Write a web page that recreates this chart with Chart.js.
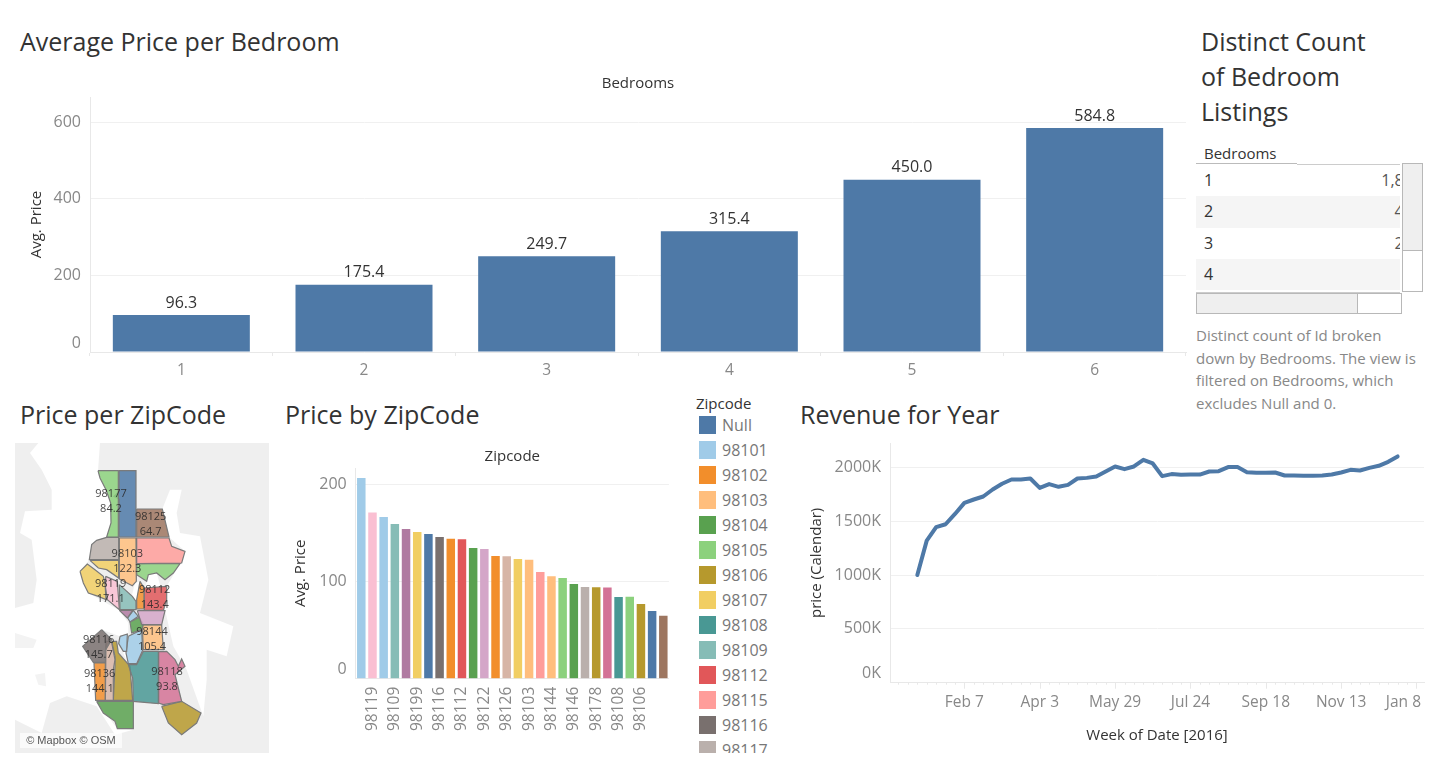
<!DOCTYPE html>
<html>
<head>
<meta charset="utf-8">
<title>Seattle listings dashboard</title>
<script src="https://cdn.jsdelivr.net/npm/chart.js@4/dist/chart.umd.js"></script>
<style>
    html, body { margin: 0; padding: 0; background: #fff; overflow: hidden; }
    body { width: 1438px; height: 768px; position: relative; font-family: "Open Sans", sans-serif; }
    canvas { position: absolute; }
    .title { position: absolute; font-size: 25px; line-height: 35px; color: #333; white-space: nowrap; }
    #legend { position: absolute; left: 696px; top: 393px; width: 80px; height: 360px; overflow: hidden; }
    #legend .head { position: absolute; left: 0; top: 0; font-size: 15px; line-height: 20px; color: #333; }
    #legend .sw { position: absolute; left: 3px; width: 17px; height: 18px; }
    #legend .lb { position: absolute; left: 26px; font-size: 16px; line-height: 18px; color: #777; }
    #table { position: absolute; left: 1196px; top: 143px; width: 228px; height: 171px; }
    #table div { position: absolute; box-sizing: border-box; }
    #note { position: absolute; left: 1196px; top: 324px; font-size: 15px; line-height: 22.5px; color: #888; white-space: nowrap; }
    #credit { position: absolute; left: 20px; top: 733px; width: 102px; height: 15px; background: rgba(255,255,255,.7);
              font: 11px/15px "Liberation Sans", sans-serif; color: #555; text-align: center; white-space: nowrap; }
</style>
</head>
<body>
<div class="title" style="left:20px;top:24px">Average Price per Bedroom</div>
<div class="title" style="left:1201px;top:24px">Distinct Count<br>of Bedroom<br>Listings</div>
<div class="title" style="left:20px;top:397px">Price per ZipCode</div>
<div class="title" style="left:285px;top:397px">Price by ZipCode</div>
<div class="title" style="left:800px;top:397px">Revenue for Year</div>

<canvas id="bedroomChart" width="1170" height="310" style="left:20px;top:70px"></canvas>
<canvas id="mapChart" width="254" height="310" style="left:15px;top:443px;background:#efefef"></canvas>
<div id="credit">© Mapbox © OSM</div>
<canvas id="zipChart" width="405" height="305" style="left:285px;top:445px"></canvas>
<div id="legend"></div>
<canvas id="revenueChart" width="630" height="320" style="left:800px;top:430px"></canvas>
<div id="table"></div>
<div id="note">Distinct count of Id broken<br>down by Bedrooms. The view is<br>filtered on Bedrooms, which<br>excludes Null and 0.</div>

<script>
// Bedrooms
const bedrooms = ['1', '2', '3', '4', '5', '6'];
const avgPriceByBedroom = [96.3, 175.4, 249.7, 315.4, 450.0, 584.8];
const bedroomRows = ['1', '2', '3', '4'];
const bedroomCounts = ['1,804', '400', '250', '90'];

// Price by zipcode, sorted like the view
const zipcodes = ['98101', '98119', '98121', '98109', '98134', '98199', 'Null', '98116', '98136', '98112',
    '98104', '98122', '98102', '98126', '98107', '98103', '98115', '98144', '98105', '98146',
    '98117', '98178', '98118', '98108', '98177', '98106', '98133', '98125'];
const avgPriceByZip = [206.4, 171.1, 166.3, 159.1, 154.0, 150.9, 148.8, 145.7, 144.1, 143.4,
    134.4, 133.4, 126.2, 126.0, 123.1, 122.3, 109.7, 105.4, 103.6, 97.4,
    94.3, 94.1, 93.8, 84.0, 84.2, 76.8, 69.6, 64.7];
const zipColors = ['#a0cbe8', '#fabfd2', '#a0cbe8', '#86bcb6', '#b07aa1', '#f1ce63', '#4e79a7', '#79706e', '#f28e2b', '#e15759',
    '#59a14f', '#d4a6c8', '#f28e2b', '#d7b5a6', '#f1ce63', '#ffbe7d', '#ff9d9a', '#ffbe7d', '#8cd17d', '#59a14f',
    '#bab0ac', '#b6992d', '#d37295', '#499894', '#8cd17d', '#b6992d', '#4e79a7', '#9d7660'];

// Legend
const legendZips = ['Null', '98101', '98102', '98103', '98104', '98105', '98106', '98107', '98108', '98109', '98112', '98115', '98116', '98117'];
const legendColors = ['#4e79a7', '#a0cbe8', '#f28e2b', '#ffbe7d', '#59a14f', '#8cd17d', '#b6992d', '#f1ce63', '#499894', '#86bcb6', '#e15759', '#ff9d9a', '#79706e', '#bab0ac'];

// Revenue, one value per week starting Jan 3 (in thousands)
const weeklyRevenue = [1001, 1320, 1445, 1472, 1568, 1671, 1702, 1730, 1795, 1848, 1888, 1888, 1897,
    1810, 1845, 1820, 1838, 1897, 1903, 1916, 1962, 2009, 1984, 2009, 2071, 2037,
    1919, 1938, 1931, 1934, 1934, 1962, 1965, 2003, 2003, 1956, 1950, 1950, 1953,
    1925, 1925, 1922, 1922, 1925, 1934, 1953, 1978, 1972, 1996, 2015, 2052, 2102];
const revenueTicks = [0, 500, 1000, 1500, 2000];
const weekTickIndex = [5, 13, 21, 29, 37, 45, 53];
const weekTickLabels = ['Feb 7', 'Apr 3', 'May 29', 'Jul 24', 'Sep 18', 'Nov 13', 'Jan 8'];

// Map outlines, in map grid units
const water = [
    [[90, 40], [115, 10], [300, 10], [294, 93], [318, 150], [332, 190], [333, 250], [320, 292], [275, 315], [268, 360], [240, 395], [250, 430], [265, 460], [318, 490], [358, 512], [385, 550], [385, 585], [360, 590], [305, 570], [248, 620], [282, 670], [287, 782], [350, 865], [400, 870], [345, 885], [290, 800], [200, 770], [150, 790], [125, 880], [45, 840], [45, 505], [100, 490], [110, 420], [95, 300], [60, 280], [75, 215], [155, 210], [155, 150], [125, 90]],
    [[510, 150], [545, 150], [530, 220], [540, 280], [600, 290], [625, 420], [600, 520], [700, 560], [680, 650], [620, 630], [620, 720], [610, 830], [560, 690], [520, 620], [495, 510], [500, 440], [540, 372], [555, 335], [507, 292], [487, 208]],
    [[405, 430], [420, 425], [408, 485], [395, 470]],
    [[445, 405], [470, 400], [482, 442], [435, 445]],
    [[378, 640], [385, 590], [360, 590], [370, 640], [385, 675], [410, 672]]
];
const landPatches = [
    [[105, 705], [135, 700], [138, 740], [115, 735]],
    [[45, 580], [110, 600], [100, 625], [45, 625]]
];
const zipShapes = [
    { zip: '98177', color: '#8cd17d', points: [[294, 93], [355, 93], [355, 292], [320, 292], [333, 250], [332, 190], [318, 150], [300, 115]] },
    { zip: '98133', color: '#4e79a7', points: [[357, 93], [408, 93], [408, 292], [357, 292], [357, 178], [342, 170], [357, 155]] },
    { zip: '98125', color: '#9d7660', points: [[410, 208], [487, 208], [507, 292], [410, 292]] },
    { zip: '98117', color: '#bab0ac', points: [[320, 293], [356, 293], [356, 360], [268, 360], [275, 315], [290, 302]] },
    { zip: '98103', color: '#ffbe7d', points: [[358, 295], [408, 295], [408, 402], [410, 425], [397, 438], [358, 418]] },
    { zip: '98115', color: '#ff9d9a', points: [[410, 295], [507, 295], [515, 320], [555, 335], [545, 370], [410, 372]] },
    { zip: '98105', color: '#8cd17d', points: [[410, 372], [540, 372], [520, 400], [495, 420], [470, 400], [445, 405], [440, 425], [410, 405]] },
    { zip: '98107', color: '#f1ce63', points: [[270, 362], [356, 362], [356, 415], [320, 390], [295, 385]] },
    { zip: '98199', color: '#f1ce63', points: [[240, 395], [262, 373], [285, 390], [310, 410], [315, 430], [318, 480], [295, 470], [265, 460], [250, 430]] },
    { zip: '98119', color: '#fabfd2', points: [[317, 410], [352, 425], [358, 510], [322, 480], [316, 440]] },
    { zip: '98109', color: '#86bcb6', points: [[358, 435], [397, 470], [408, 485], [408, 510], [360, 510]] },
    { zip: '98102', color: '#f28e2b', points: [[420, 425], [432, 445], [432, 508], [410, 508], [410, 480]] },
    { zip: '98112', color: '#e15759', points: [[433, 445], [500, 440], [500, 480], [490, 512], [433, 512]] },
    { zip: '98122', color: '#d4a6c8', points: [[412, 513], [495, 513], [485, 555], [425, 555]] },
    { zip: '98121', color: '#b07aa1', points: [[358, 512], [398, 512], [382, 535]] },
    { zip: '98101', color: '#a0cbe8', points: [[383, 535], [400, 512], [415, 530], [390, 547]] },
    { zip: '98104', color: '#59a14f', points: [[390, 547], [418, 533], [430, 555], [425, 570], [395, 580]] },
    { zip: '98144', color: '#ffbe7d', points: [[428, 556], [485, 556], [490, 630], [430, 630], [428, 585]] },
    { zip: '98134a', color: '#a0cbe8', points: [[360, 590], [382, 583], [380, 635], [370, 635], [356, 612]] },
    { zip: '98134b', color: '#a0cbe8', points: [[385, 590], [425, 570], [428, 632], [410, 672], [385, 672], [378, 640]] },
    { zip: '98108', color: '#499894', points: [[385, 675], [410, 675], [430, 635], [475, 635], [475, 792], [400, 785], [398, 715]] },
    { zip: '98118', color: '#d37295', points: [[476, 636], [500, 635], [525, 660], [535, 680], [545, 658], [555, 680], [525, 705], [545, 785], [490, 795], [476, 790]] },
    { zip: '98116', color: '#79706e', points: [[305, 570], [335, 600], [316, 632], [316, 668], [280, 668], [248, 620]] },
    { zip: '98126', color: '#d7b5a6', points: [[318, 604], [335, 608], [345, 660], [340, 690], [340, 782], [316, 782]] },
    { zip: '98106', color: '#b6992d', points: [[335, 605], [350, 605], [355, 640], [390, 680], [398, 782], [340, 782], [345, 680], [345, 650]] },
    { zip: '98136', color: '#f28e2b', points: [[282, 670], [316, 670], [316, 782], [287, 782]] },
    { zip: '98146', color: '#59a14f', points: [[290, 785], [400, 785], [400, 867], [352, 867], [345, 845], [310, 820]] },
    { zip: '98178', color: '#b6992d', points: [[485, 800], [545, 785], [603, 820], [590, 850], [545, 885], [505, 850]] }
];
const mapLabels = [
    { zip: '98177', value: '84.2', x: 333, y: 185 },
    { zip: '98125', value: '64.7', x: 452, y: 255 },
    { zip: '98103', value: '122.3', x: 382, y: 366 },
    { zip: '98119', value: '171.1', x: 332, y: 455 },
    { zip: '98112', value: '143.4', x: 464, y: 473 },
    { zip: '98144', value: '105.4', x: 456, y: 600 },
    { zip: '98116', value: '145.7', x: 296, y: 623 },
    { zip: '98136', value: '144.1', x: 299, y: 725 },
    { zip: '98118', value: '93.8', x: 501, y: 720 }
];

const FONT = '"Open Sans", sans-serif';
const TICK_COLOR = '#888';
const TEXT_COLOR = '#333';
const GRID_COLOR = '#f0f0f0';
const AXIS_COLOR = '#e8e8e8';

Chart.defaults.font.family = FONT;
Chart.defaults.animation = false;
Chart.defaults.plugins.legend.display = false;
Chart.defaults.plugins.tooltip.enabled = false;

// Tableau pushes the bottom label of a value axis up above the baseline
const valueAxisLabels = {
    id: 'valueAxisLabels',
    afterDraw(chart, args, opts) {
        if (!opts.format) return;
        const { ctx, scales: { y }, chartArea } = chart;
        ctx.save();
        ctx.font = '16px ' + FONT;
        ctx.fillStyle = TICK_COLOR;
        ctx.textAlign = 'right';
        ctx.textBaseline = 'middle';
        y.ticks.forEach(t => {
            const shift = t.value === 0 ? -9 : 0;
            ctx.fillText(opts.format(t.value), chartArea.left - 9, y.getPixelForValue(t.value) + shift);
        });
        ctx.restore();
    }
};

// Header of the view, centred over the plot
const viewHeader = {
    id: 'viewHeader',
    afterDraw(chart, args, opts) {
        if (!opts.text) return;
        const { ctx, chartArea } = chart;
        ctx.save();
        ctx.font = '15px ' + FONT;
        ctx.fillStyle = TEXT_COLOR;
        ctx.textAlign = 'center';
        ctx.textBaseline = 'middle';
        ctx.fillText(opts.text, (chartArea.left + chartArea.right) / 2, opts.y);
        ctx.restore();
    }
};

const barValueLabels = {
    id: 'barValueLabels',
    afterDatasetsDraw(chart, args, opts) {
        if (!opts.show) return;
        const { ctx } = chart;
        ctx.save();
        ctx.font = '16px ' + FONT;
        ctx.fillStyle = TEXT_COLOR;
        ctx.textAlign = 'center';
        ctx.textBaseline = 'bottom';
        chart.getDatasetMeta(0).data.forEach((bar, i) => {
            ctx.fillText(chart.data.datasets[0].data[i].toFixed(1), bar.x, bar.y - 4);
        });
        ctx.restore();
    }
};

// Week axis of the revenue view: small tick per week, bigger one and label on the named weeks
const weekAxis = {
    id: 'weekAxis',
    afterDraw(chart, args, opts) {
        if (!opts.show) return;
        const { ctx, scales: { x }, chartArea } = chart;
        ctx.save();
        ctx.strokeStyle = AXIS_COLOR;
        ctx.lineWidth = 1;
        for (let w = -2; w <= 53; w++) {
            const px = Math.round(x.getPixelForValue(w)) + 0.5;
            const len = weekTickIndex.includes(w) ? 6 : 2;
            ctx.beginPath();
            ctx.moveTo(px, chartArea.bottom);
            ctx.lineTo(px, chartArea.bottom + len);
            ctx.stroke();
        }
        ctx.font = '15.5px ' + FONT;
        ctx.fillStyle = TICK_COLOR;
        ctx.textAlign = 'center';
        ctx.textBaseline = 'middle';
        weekTickIndex.forEach((w, i) => {
            const half = ctx.measureText(weekTickLabels[i]).width / 2;
            const px = Math.min(x.getPixelForValue(w), chartArea.right - 3 - half);
            ctx.fillText(weekTickLabels[i], px, chartArea.bottom + 20);
        });
        ctx.restore();
    }
};

const mapText = {
    id: 'mapText',
    afterDatasetsDraw(chart, args, opts) {
        if (!opts.show) return;
        const { ctx, scales: { x, y } } = chart;
        ctx.save();
        ctx.font = '11px ' + FONT;
        ctx.fillStyle = 'rgba(40,40,40,.85)';
        ctx.textAlign = 'center';
        ctx.textBaseline = 'middle';
        mapLabels.forEach(l => {
            ctx.fillText(l.zip, x.getPixelForValue(l.x), y.getPixelForValue(l.y) - 7.5);
            ctx.fillText(l.value, x.getPixelForValue(l.x), y.getPixelForValue(l.y) + 7.5);
        });
        ctx.restore();
    }
};

Chart.register(valueAxisLabels, viewHeader, barValueLabels, weekAxis, mapText);

function axisTitle(text, padding) {
    return { display: true, text, color: TEXT_COLOR, font: { size: 15 }, padding };
}

// Average price per bedroom
new Chart(document.getElementById('bedroomChart'), {
    type: 'bar',
    data: {
        labels: bedrooms,
        datasets: [{ data: avgPriceByBedroom, backgroundColor: '#4e79a7', barPercentage: 0.75, categoryPercentage: 1 }]
    },
    options: {
        responsive: false,
        layout: { padding: { top: 27, right: 4 }, autoPadding: false },
        plugins: {
            viewHeader: { text: 'Bedrooms', y: 14 },
            valueAxisLabels: { format: v => String(v) },
            barValueLabels: { show: true }
        },
        scales: {
            x: {
                afterFit: s => { s.height = 28; },
                grid: { drawOnChartArea: false, tickColor: AXIS_COLOR, tickLength: 4 },
                border: { color: AXIS_COLOR },
                ticks: { color: TICK_COLOR, font: { size: 15.5 }, padding: 5 }
            },
            y: {
                min: 0,
                max: 665.8,
                afterFit: s => { s.width = 70; },
                grid: { color: GRID_COLOR, drawTicks: false },
                border: { color: AXIS_COLOR },
                ticks: { display: false, stepSize: 200, includeBounds: false },
                title: axisTitle('Avg. Price', { top: 8, bottom: 0 })
            }
        }
    }
});

function outline(points, color, line, width, order) {
    return {
        data: points.concat([points[0]]).map(([x, y]) => ({ x, y })),
        backgroundColor: color,
        borderColor: line,
        borderWidth: width,
        showLine: true,
        fill: 'shape',
        pointRadius: 0,
        order
    };
}

// Map of the zipcodes, drawn as closed outlines on a plain grid
new Chart(document.getElementById('mapChart'), {
    type: 'scatter',
    data: {
        datasets: [
            ...zipShapes.map(s => outline(s.points, s.color + 'd9', '#7a7a7a', 1.2, 1)),
            ...landPatches.map(p => outline(p, '#f3f3f3', '#f3f3f3', 0, 2)),
            ...water.map(w => outline(w, '#ffffff', '#ffffff', 0, 3))
        ]
    },
    options: {
        responsive: false,
        layout: { autoPadding: false },
        plugins: { mapText: { show: true } },
        scales: {
            x: { display: false, min: 45, max: 807 },
            y: { display: false, min: 10, max: 940, reverse: true }
        }
    }
});

// Price by zipcode
new Chart(document.getElementById('zipChart'), {
    type: 'bar',
    data: {
        labels: zipcodes,
        datasets: [{ data: avgPriceByZip, backgroundColor: zipColors, barPercentage: 0.76, categoryPercentage: 1 }]
    },
    options: {
        responsive: false,
        layout: { padding: { top: 23, right: 5 }, autoPadding: false },
        plugins: {
            viewHeader: { text: 'Zipcode', y: 12 },
            valueAxisLabels: { format: v => String(v) }
        },
        scales: {
            x: {
                afterFit: s => { s.height = 71.3; },
                grid: { drawOnChartArea: false, drawTicks: false },
                border: { color: AXIS_COLOR },
                ticks: {
                    color: TICK_COLOR,
                    font: { size: 15.5 },
                    autoSkip: false,
                    minRotation: 90,
                    maxRotation: 90,
                    padding: 8,
                    callback(value, i) { return i % 2 === 1 && i < 27 ? zipcodes[i] : ''; }
                }
            },
            y: {
                min: 0,
                max: 216.8,
                afterFit: s => { s.width = 70.7; },
                grid: { color: GRID_COLOR, drawTicks: false },
                border: { color: AXIS_COLOR },
                ticks: { display: false, stepSize: 100, includeBounds: false },
                title: axisTitle('Avg. Price', { top: 7, bottom: 0 })
            }
        }
    }
});

// Legend of the zipcodes
const legendBox = document.getElementById('legend');
legendBox.innerHTML = '<div class="head">Zipcode</div>' + legendZips.map((zip, i) => {
    const top = 23 + i * 25;
    return `<div class="sw" style="top:${top}px;background:${legendColors[i]}"></div><div class="lb" style="top:${top}px">${zip}</div>`;
}).join('');

// Revenue for year
new Chart(document.getElementById('revenueChart'), {
    type: 'scatter',
    data: {
        datasets: [{
            data: weeklyRevenue.map((v, week) => ({ x: week, y: v })),
            borderColor: '#4e79a7',
            borderWidth: 4,
            borderCapStyle: 'round',
            borderJoinStyle: 'round',
            showLine: true,
            pointRadius: 0
        }]
    },
    options: {
        responsive: false,
        layout: { padding: { top: 13, right: 6 }, autoPadding: false },
        plugins: {
            valueAxisLabels: { format: v => v + 'K' },
            weekAxis: { show: true }
        },
        scales: {
            x: {
                type: 'linear',
                min: -2.9,
                max: 53.8,
                afterFit: s => { s.height = 67.3; },
                grid: { display: false },
                border: { color: AXIS_COLOR },
                ticks: { display: false },
                title: axisTitle('Week of Date [2016]', { top: 0, bottom: 5.6 })
            },
            y: {
                min: 0,
                max: 2227,
                afterFit: s => { s.width = 90; },
                afterBuildTicks: s => { s.ticks = revenueTicks.map(value => ({ value })); },
                grid: { color: GRID_COLOR, drawTicks: false },
                border: { color: AXIS_COLOR },
                ticks: { display: false },
                title: axisTitle('price (Calendar)', { top: 8, bottom: 0 })
            }
        }
    }
});

// Count table with its scrollbars, the numbers run past the edge of the pane
const rowStyle = 'left:0;width:204px;height:31.3px;';
let tableHtml = '<div style="left:8px;top:1px;font-size:15px;line-height:18px;color:#333">Bedrooms</div>' +
    '<div style="left:0;top:20px;width:101px;height:1px;background:#bbb"></div>' +
    '<div style="left:101px;top:21px;width:103px;height:1px;background:#ccc"></div>';
bedroomRows.forEach((row, i) => {
    const top = 22 + i * 31.3;
    tableHtml += `<div style="${rowStyle}top:${top}px;overflow:hidden;background:${i % 2 ? '#f5f5f5' : '#fff'}">` +
        `<div style="left:8px;top:6px;font-size:16px;line-height:18px;color:#333">${row}</div>` +
        `<div style="right:-22px;top:6px;font-size:16px;line-height:18px;color:#555;white-space:nowrap">${bedroomCounts[i]}</div></div>`;
});
tableHtml += '<div style="left:0;top:148.5px;width:204px;height:1px;background:#ccc"></div>' +
    '<div style="left:0;top:150px;width:206px;height:21px;border:1px solid #b8b8b8"></div>' +
    '<div style="left:0;top:150px;width:162px;height:21px;border:1px solid #b8b8b8;background:#efefef"></div>' +
    '<div style="left:206px;top:20px;width:21px;height:129px;border:1px solid #b8b8b8"></div>' +
    '<div style="left:206px;top:20px;width:21px;height:88px;border:1px solid #b8b8b8;background:#efefef"></div>';
document.getElementById('table').innerHTML = tableHtml;
</script>
</body>
</html>
